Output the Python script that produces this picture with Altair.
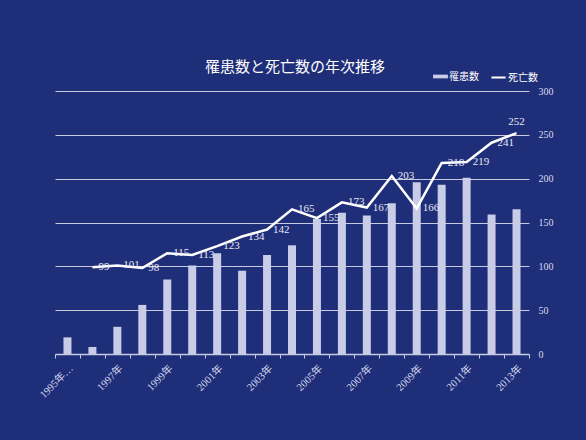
import altair as alt
import pandas as pd

years = [f"{y}年" for y in range(1995, 2014)]
incidence = [19, 8, 31, 56, 85, 101, 115, 95, 113, 124, 154, 161, 158, 172, 196, 193, 201, 159, 165]
death_years = [f"{y}年" for y in range(1996, 2014)]
deaths = [99, 101, 98, 115, 113, 123, 134, 142, 165, 155, 173, 167, 203, 166, 218, 219, 241, 252]

bars_df = pd.DataFrame({"year": years, "罹患数": incidence})
line_df = pd.DataFrame({"year": death_years, "死亡数": deaths})

BG = "#1f2e78"
SERIF = "Liberation Serif, Noto Sans CJK JP"
CJK = "Noto Sans CJK JP"

x_enc = alt.X(
    "year:N",
    sort=years,
    scale=alt.Scale(domain=years, paddingInner=0, paddingOuter=0),
    axis=alt.Axis(
        title=None,
        labelAngle=-45,
        labelFont=SERIF,
        labelFontSize=10.5,
        labelColor="#d8dbee",
        labelExpr="datum.label == '1995年' ? '1995年…' : (parseInt(datum.label) % 2 == 1 ? datum.label : '')",
        labelOverlap=False,
        tickBand="extent",
        tickColor="#c8cbe0",
        tickSize=4,
        domainColor="#c8cbe0",
        domainWidth=1.5,
        grid=False,
        labelPadding=5,
    ),
)

y_scale = alt.Scale(domain=[0, 300])
y_axis = alt.Axis(
    title=None,
    orient="right",
    values=[0, 50, 100, 150, 200, 250, 300],
    labelFont=SERIF,
    labelFontSize=10,
    labelColor="#d8dbee",
    grid=True,
    gridColor="#c8cbe0",
    gridWidth=1,
    domain=False,
    ticks=False,
    labelPadding=9,
)

bars = alt.Chart(bars_df).mark_bar(size=8, color="#c9cce6").encode(
    x=x_enc,
    y=alt.Y("罹患数:Q", scale=y_scale, axis=y_axis),
    fill=alt.Fill(
        "series:N",
        scale=alt.Scale(domain=["罹患数"], range=["#c9cce6"]),
        legend=alt.Legend(
            title=None,
            orient="none",
            legendX=378,
            legendY=-22,
            symbolType="M-1,-0.25 L1,-0.25 L1,0.25 L-1,0.25 Z",
            symbolSize=220,
            symbolStrokeWidth=0,
            labelFont=CJK,
            labelFontSize=10,
            labelColor="#ffffff",
            labelOffset=1,
        ),
    ),
).transform_calculate(series="'罹患数'")

line = alt.Chart(line_df).mark_line(color="white", strokeWidth=2.5).encode(
    x=alt.X("year:N", sort=years),
    y=alt.Y("死亡数:Q", scale=y_scale),
    stroke=alt.Stroke(
        "series:N",
        scale=alt.Scale(domain=["死亡数"], range=["#ffffff"]),
        legend=alt.Legend(
            title=None,
            orient="none",
            legendX=435,
            legendY=-22,
            symbolType="stroke",
            symbolSize=200,
            symbolStrokeWidth=2,
            labelFont=CJK,
            labelFontSize=10,
            labelColor="#ffffff",
            labelOffset=1,
        ),
    ),
).transform_calculate(series="'死亡数'")

labels = alt.Chart(line_df).transform_filter(
    "datum.year != '2013年'"
).mark_text(
    align="left", baseline="middle", dx=6, font=SERIF, fontSize=11, color="#e8e9f4"
).encode(
    x=alt.X("year:N", sort=years),
    y=alt.Y("死亡数:Q", scale=y_scale),
    text="死亡数:Q",
)

last_label = alt.Chart(line_df).transform_filter(
    "datum.year == '2013年'"
).mark_text(
    align="center", baseline="bottom", dy=-6, font=SERIF, fontSize=11, color="#e8e9f4"
).encode(
    x=alt.X("year:N", sort=years),
    y=alt.Y("死亡数:Q", scale=y_scale),
    text="死亡数:Q",
)

chart = alt.layer(bars, line, labels, last_label).resolve_scale(
    fill="independent", stroke="independent"
).properties(
    width=474,
    height=263,
    background=BG,
    padding={"left": 55, "top": 91, "right": 57, "bottom": 86},
    autosize=alt.AutoSizeParams(type="none"),
    title=alt.TitleParams(
        "罹患数と死亡数の年次推移",
        font=CJK,
        fontSize=15,
        fontWeight="normal",
        color="#ffffff",
        anchor="middle",
        offset=16,
        dx=3,
        dy=22,
    ),
).configure_view(stroke=None)

chart.save("out.html", embed_options={"renderer": "svg", "actions": False})
